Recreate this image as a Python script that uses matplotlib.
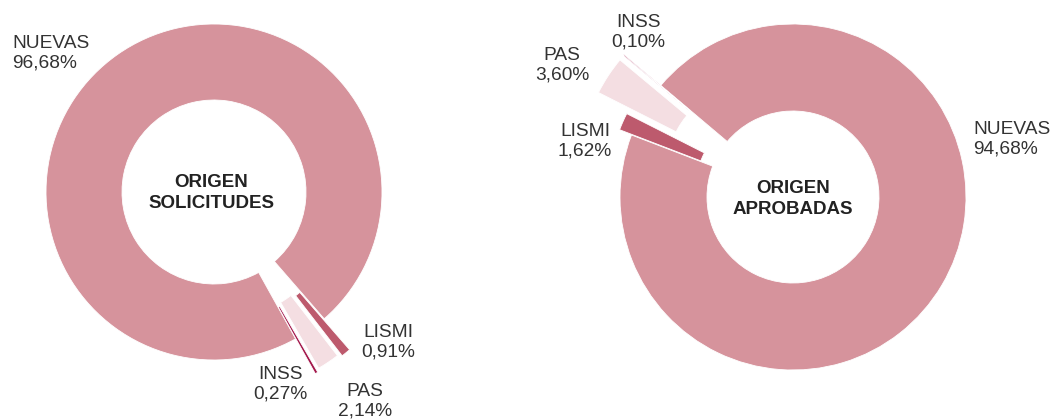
import matplotlib
matplotlib.use("Agg")
import matplotlib.pyplot as plt

# ---- data ----
categories = ["NUEVAS", "INSS", "PAS", "LISMI"]
solicitudes = [96.68, 0.27, 2.14, 0.91]
aprobadas = [94.68, 0.10, 3.60, 1.62]
titles = ["ORIGEN\nSOLICITUDES", "ORIGEN\nAPROBADAS"]

colors = ["#D6939C", "#A3174B", "#F4DEE2", "#BD5A6D"]
text_color = "#333333"
FONT = ["Liberation Sans", "DejaVu Sans"]

W, H = 1050, 420
fig = plt.figure(figsize=(W / 100, H / 100), dpi=100)
ax = fig.add_axes([0, 0, 1, 1])


def Y(y):
    return H - y


def fmt(v):
    return f"{v:.2f}".replace(".", ",") + "%"


# left donut
ax.pie(solicitudes, colors=colors, startangle=-49, counterclock=True,
       center=(214, Y(192)), radius=168, explode=[0, 40, 37, 40],
       wedgeprops=dict(width=76, edgecolor="white", linewidth=0.6))
# right donut
ax.pie(aprobadas, colors=colors, startangle=159, counterclock=True,
       center=(793, Y(197)), radius=173, explode=[0, 48, 48, 13],
       wedgeprops=dict(width=87, edgecolor="white", linewidth=0.6))

ax.set_xlim(0, W)
ax.set_ylim(0, H)
ax.set_aspect("equal")
ax.axis("off")

# label positions (pixel layout): (x, y, ha)
left_pos = {"NUEVAS": (12, 53, "left"), "INSS": (280, 384, "center"),
            "PAS": (365, 401, "center"), "LISMI": (388, 342, "center")}
right_pos = {"NUEVAS": (973, 139, "left"), "INSS": (638, 32, "center"),
             "PAS": (562, 65, "center"), "LISMI": (585, 141, "center")}

for vals, pos in ((solicitudes, left_pos), (aprobadas, right_pos)):
    for cat, v in zip(categories, vals):
        x, y, ha = pos[cat]
        ax.text(x, Y(y), f"{cat}\n{fmt(v)}", ha=ha, va="center",
                fontsize=13.8, color=text_color, family=FONT,
                linespacing=1.18)

ax.text(211, Y(193), titles[0], ha="center", va="center", fontsize=13.5,
        fontweight="bold", color="#222222", family=FONT, linespacing=1.25)
ax.text(793, Y(199), titles[1], ha="center", va="center", fontsize=13.5,
        fontweight="bold", color="#222222", family=FONT, linespacing=1.25)

fig.savefig("out.png", dpi=100)
